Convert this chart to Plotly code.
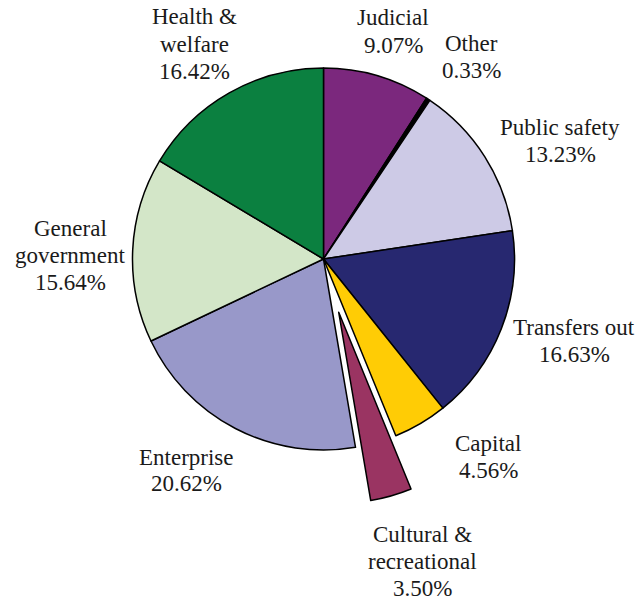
import plotly.graph_objects as go

# Expenditure shares by function (percent), clockwise from 12 o'clock
categories = ["Judicial", "Other", "Public safety", "Transfers out", "Capital",
              "Cultural & recreational", "Enterprise", "General government",
              "Health & welfare"]
shares = [9.07, 0.33, 13.23, 16.63, 4.56, 3.50, 20.62, 15.64, 16.42]

# How each category name is broken over lines in its label
label_lines = [["Judicial"], ["Other"], ["Public safety"], ["Transfers out"],
               ["Capital"], ["Cultural &", "recreational"], ["Enterprise"],
               ["General", "government"], ["Health &", "welfare"]]

colors = ["#7B287D", "#000000", "#CDCAE6", "#272870", "#FFCC05",
          "#9A3462", "#9898C9", "#D3E6C8", "#0B8040"]
pulls = [0, 0, 0, 0, 0, 0.29, 0, 0, 0]

W, H = 636, 601
# Label placement: (center x, first-line y) in pixels, and line step
label_pos = [(393, 18), (471, 43), (560, 127), (574, 327), (488, 443),
             (422, 534), (186, 457), (70, 228), (194, 17)]
LINE_STEP = 27
FONT = "Liberation Serif"

fig = go.Figure(go.Pie(
    labels=categories,
    values=shares,
    sort=False,
    direction="clockwise",
    rotation=0,
    pull=pulls,
    marker=dict(colors=colors, line=dict(color="#000000", width=1.5)),
    textinfo="none",
    hoverinfo="label+percent",
    showlegend=False,
    domain=dict(x=[77.1 / W, 569.9 / W], y=[1 - 505.4 / H, 1 - 12.6 / H]),
))

annotations = []
for lines, val, (cx, cy) in zip(label_lines, shares, label_pos):
    for i, txt in enumerate(lines + [f"{val:.2f}%"]):
        annotations.append(dict(
            x=cx / W, y=1 - (cy + i * LINE_STEP) / H,
            xref="paper", yref="paper",
            xanchor="center", yanchor="middle",
            text=txt, showarrow=False,
            font=dict(family=FONT, size=23, color="#1a1a1a"),
        ))

fig.update_layout(
    width=W, height=H,
    margin=dict(l=0, r=0, t=0, b=0),
    paper_bgcolor="white",
    plot_bgcolor="white",
    font=dict(family=FONT),
    annotations=annotations,
)

fig.write_html("out.html")
